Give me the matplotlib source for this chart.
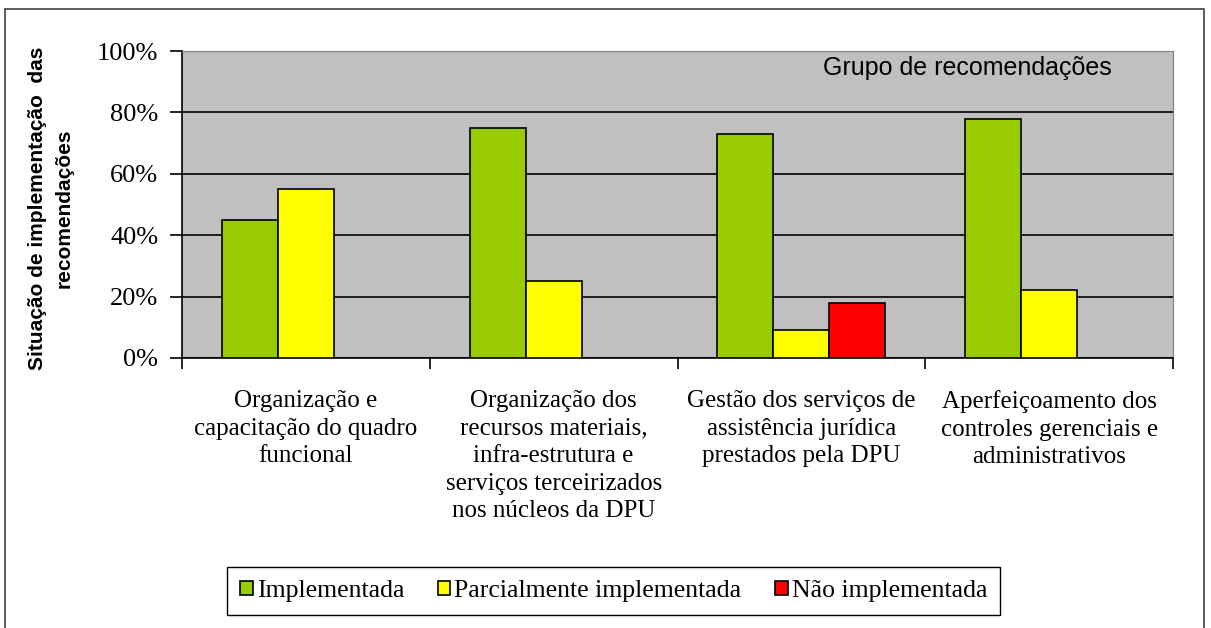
import numpy as np
import matplotlib
matplotlib.use('Agg')
import matplotlib.pyplot as plt
from matplotlib.patches import Rectangle

# data
categories = ['Organização e\ncapacitação do quadro\nfuncional',
              'Organização dos\nrecursos materiais,\ninfra-estrutura e\nserviços terceirizados\nnos núcleos da DPU',
              'Gestão dos serviços de\nassistência jurídica\nprestados pela DPU',
              'Aperfeiçoamento dos\ncontroles gerenciais e\nadministrativos']
series_names = ['Implementada', 'Parcialmente implementada', 'Não implementada']
implementada = [45, 75, 73, 78]
parcial = [55, 25, 9, 22]
nao_impl = [0, 0, 18, 0]
colors = ['#99CC00', '#FFFF00', '#FF0000']
yticks = [0, 20, 40, 60, 80, 100]

fig = plt.figure(figsize=(12.11, 6.28), dpi=100)
ax = fig.add_axes([182 / 1211, 1 - 358 / 628, 991 / 1211, 307 / 628])

x = np.arange(len(categories))
w = 0.226
for i, (vals, name, c) in enumerate(zip([implementada, parcial, nao_impl], series_names, colors)):
    xs = [xx + (i - 1) * w for xx, v in zip(x, vals) if v > 0]
    vs = [v for v in vals if v > 0]
    ax.bar(xs, vs, width=w, color=c, edgecolor='black', linewidth=1.2, label=name, zorder=3)

ax.set_facecolor('#C0C0C0')
ax.set_xlim(-0.5, len(categories) - 0.5)
ax.set_ylim(0, 100)
ax.set_yticks(yticks)
ax.set_yticklabels([f'{t}%' for t in yticks], family='Liberation Serif', fontsize=19)
ax.yaxis.grid(True, color='black', linewidth=1.2, zorder=1)
ax.tick_params(axis='y', length=9, width=1.2, pad=8)

ax.set_xticks(x)
ax.set_xticklabels(categories, family='Liberation Serif', fontsize=18, linespacing=1.33)
ax.tick_params(axis='x', which='major', length=0, pad=23)
ax.set_xticks(np.arange(len(categories) + 1) - 0.5, minor=True)
ax.tick_params(axis='x', which='minor', length=8, width=1.2)

for s in ['left', 'bottom']:
    ax.spines[s].set_linewidth(1.2)
for s in ['top', 'right']:
    ax.spines[s].set_color('#808080')

ax.text(0.793, 0.985, 'Grupo de recomendações', transform=ax.transAxes,
        ha='center', va='top', family='Liberation Sans', fontsize=18)

fig.text(51 / 1211, 1 - 208 / 628, 'Situação de implementação  das\nrecomendações',
         rotation=90, ha='center', va='center', family='Liberation Sans',
         fontsize=15, fontweight='bold', linespacing=1.5)

fig.legend(loc='center', bbox_to_anchor=((227 + 1000) / 2 / 1211, 1 - 591 / 628),
           ncol=3, frameon=True, fancybox=False, edgecolor='black', framealpha=1,
           prop={'family': 'Liberation Serif', 'size': 18.5},
           handlelength=0.5, handleheight=0.5, handletextpad=0.15, columnspacing=1.3,
           borderpad=0.5)

fig.patches.append(Rectangle((5 / 1211, -0.05), 1199 / 1211, 1 - 9 / 628 + 0.05,
                             transform=fig.transFigure, fill=False,
                             edgecolor='#404040', linewidth=1.2))

fig.savefig('out.png', dpi=100)
